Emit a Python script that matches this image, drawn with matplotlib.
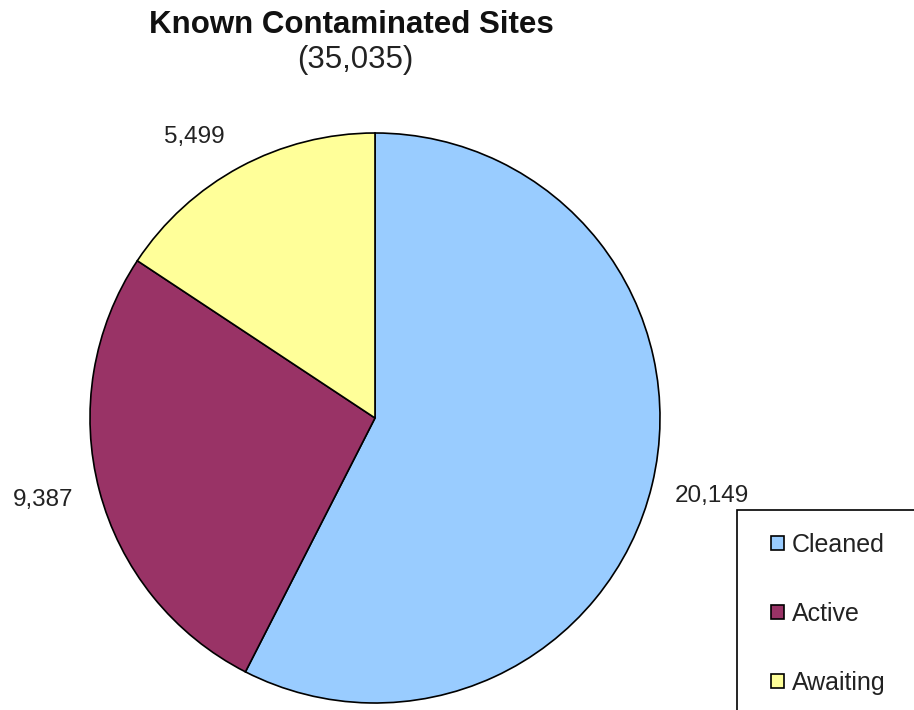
import matplotlib
matplotlib.use("Agg")
import matplotlib.pyplot as plt
from matplotlib.patches import Rectangle
import numpy as np

categories = ["Cleaned", "Active", "Awaiting"]
values = [20149, 9387, 5499]
value_labels = ["20,149", "9,387", "5,499"]
colors = ["#99CCFF", "#993366", "#FFFF99"]
title = "Known Contaminated Sites"
subtitle = "(35,035)"

plt.rcParams['font.family'] = ['Liberation Sans', 'DejaVu Sans']

W, H = 914, 710
fig = plt.figure(figsize=(W / 100, H / 100), dpi=100)
ax = fig.add_axes([0, 0, 1, 1])

cx, cy, R = 375, H - 418, 285
wedges, _ = ax.pie(values, colors=colors, startangle=90, counterclock=False,
                   center=(cx, cy), radius=R, frame=True,
                   wedgeprops=dict(edgecolor='black', linewidth=1.2))
ax.set_xlim(0, W)
ax.set_ylim(0, H)
ax.set_aspect('equal')
ax.axis('off')

# label placement (style): radial distance factor and pixel offset
dists = [1.21, 1.205, 1.12]
offsets = [(2, 3), (0, 5), (-30, 0)]
for w, lab, d, (ox, oy) in zip(wedges, value_labels, dists, offsets):
    ang = np.deg2rad((w.theta1 + w.theta2) / 2)
    ax.text(cx + R * d * np.cos(ang) + ox, cy + R * d * np.sin(ang) + oy, lab,
            ha='center', va='center', fontsize=17.5, color='#222222')

fig.text(351 / W, 1 - 33 / H, title, ha='center', va='baseline',
         fontsize=22.5, fontweight='bold', color='#111111')
fig.text(355 / W, 1 - 68 / H, subtitle, ha='center', va='baseline',
         fontsize=22.5, color='#222222')

# legend box (extends past figure edge as in the reference)
ax.add_patch(Rectangle((737, -20), 300, H - 510 + 20, facecolor='white',
                       edgecolor='black', linewidth=1.2, clip_on=False, zorder=3))

leg = fig.legend(wedges, categories, loc='upper left',
                 bbox_to_anchor=(750 / W, 1 - 512 / H), fontsize=18,
                 frameon=False,
                 handlelength=0.52, handleheight=0.52, handletextpad=0.3,
                 labelspacing=1.8, borderpad=0.84, borderaxespad=0)
leg.set_zorder(5)
for t in leg.get_texts():
    t.set_color('#222222')

fig.savefig("out.png", dpi=100)
